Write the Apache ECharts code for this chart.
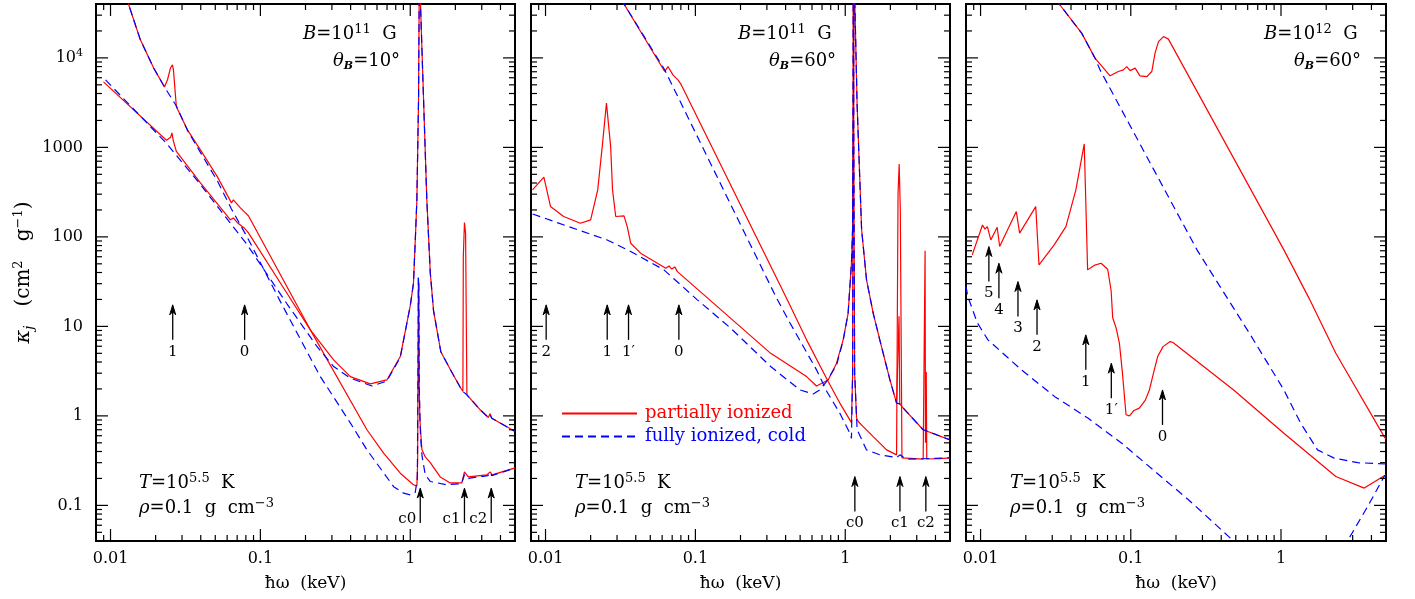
<!DOCTYPE html>
<html>
<head>
<meta charset="utf-8">
<title>opacity vs photon energy</title>
<script src="https://cdn.jsdelivr.net/npm/echarts@6/dist/echarts.min.js"></script>
<style>
  html, body { margin: 0; padding: 0; background: #fff; }
  #chart { width: 1415px; height: 599px; }
</style>
</head>
<body>
<div id="chart"></div>
<script>
// [photon energy keV, kappa cm^2/g]
// panel 1: B = 1e11 G, theta = 10 deg
var p1RedS = [[0.0126,50000],[0.0158,16000],[0.0194,7700],[0.0229,4740],[0.024,5700],[0.0251,7700],[0.0259,8350],[0.0263,7350],[0.0271,3860],[0.0275,2840],[0.0326,1570],[0.0398,937],[0.0517,468],[0.0641,240],[0.066,259],[0.0736,211],[0.0782,190],[0.0806,200],[0.0832,172],[0.2154,9.15],[0.514,0.70],[0.664,0.383],[0.858,0.229],[1.05,0.17],[1.107,0.165],[1.12,0.3],[1.128,5],[1.133,35],[1.14,30],[1.148,2],[1.16,0.9],[1.196,0.42],[1.259,0.348],[1.36,0.30],[1.585,0.208],[1.848,0.178],[2.21,0.178],[2.3,0.237],[2.44,0.208],[3.24,0.219],[3.41,0.237],[3.52,0.219],[5.01,0.262]];
var p1RedW = [[0.00898,5400],[0.0236,1200],[0.0252,1300],[0.0257,1450],[0.0262,1200],[0.0275,900],[0.0398,401],[0.0631,155],[0.066,163],[0.070,145],[0.0782,125],[0.0806,128],[0.0832,111],[0.15,23.6],[0.2154,9.15],[0.308,4.23],[0.398,2.75],[0.541,2.28],[0.698,2.52],[0.858,4.6],[1.0,17],[1.05,30],[1.08,90],[1.107,259],[1.136,3400],[1.15,100000],[1.17,100000],[1.227,3400],[1.29,259],[1.36,40],[1.43,15],[1.6,5.2],[1.85,3.3],[2.15,2.1],[2.245,1.87],[2.26,60],[2.30,145],[2.34,110],[2.388,1.72],[2.93,1.17],[3.32,0.96],[3.41,1.06],[3.5,0.94],[5.01,0.67]];
var p1BlueS = [[0.0126,50000],[0.0158,16000],[0.0194,7700],[0.0229,4740],[0.0275,2900],[0.0326,1550],[0.0398,880],[0.0517,420],[0.0641,205],[0.0815,100],[0.136,18.9],[0.251,2.75],[0.398,0.836],[0.514,0.417],[0.775,0.162],[0.903,0.137],[1.0,0.131],[1.08,0.14],[1.115,0.2],[1.128,5],[1.133,35],[1.14,30],[1.148,2],[1.17,0.6],[1.2,0.35],[1.26,0.22],[1.36,0.185],[1.75,0.17],[2.2,0.175],[2.3,0.22],[2.4,0.2],[3.3,0.215],[3.4,0.235],[3.5,0.215],[5.01,0.262]];
var p1BlueW = [[0.00926,5680],[0.0235,1120],[0.0398,385],[0.0631,142],[0.0815,82],[0.15,18],[0.239,5.94],[0.308,3.56],[0.398,2.64],[0.555,2.16],[0.698,2.45],[0.858,4.5],[1.0,17],[1.05,30],[1.08,90],[1.107,259],[1.136,3400],[1.15,100000],[1.17,100000],[1.227,3400],[1.29,259],[1.36,40],[1.43,15],[1.6,5.2],[1.85,3.3],[2.15,2.1],[2.245,1.87],[2.388,1.72],[2.93,1.17],[3.32,0.96],[3.41,1.02],[3.5,0.94],[5.01,0.67]];

// panel 2: B = 1e11 G, theta = 60 deg
var p2RedS = [[0.032,45000],[0.0624,7040],[0.0656,8000],[0.0708,6460],[0.0765,5680],[0.0806,4990],[0.405,20.7],[0.552,7.07],[0.769,2.42],[0.92,1.39],[1.1,0.84],[1.12,3],[1.13,100000],[1.14,100000],[1.155,3],[1.19,0.95],[1.22,0.865],[1.318,0.76],[1.537,0.587],[1.888,0.417],[2.2,0.367],[2.22,0.37],[2.25,300],[2.29,650],[2.33,200],[2.39,0.34],[2.44,0.337],[3.31,0.328],[3.39,0.33],[3.41,70],[3.43,0.5],[3.47,3.1],[3.5,0.33],[4.29,0.333],[5.0,0.34]];
var p2RedW = [[0.00819,335],[0.00975,465],[0.0108,218],[0.0132,169],[0.0171,142],[0.02,155],[0.0223,335],[0.0239,1021],[0.0255,3118],[0.0272,1021],[0.028,335],[0.0294,169],[0.0334,172],[0.0351,130],[0.037,85],[0.0431,65.8],[0.0634,44.7],[0.0667,47.4],[0.0695,43.7],[0.0728,46.2],[0.0759,40.9],[0.318,5.0],[0.552,2.75],[0.643,2.16],[0.769,2.52],[0.875,3.88],[0.968,7.07],[1.045,14],[1.1,50.8],[1.119,120],[1.135,3000],[1.145,100000],[1.16,100000],[1.2,3000],[1.286,120],[1.387,33],[1.537,14],[1.70,7.07],[1.987,2.52],[2.2,1.39],[2.26,1.37],[2.285,13],[2.31,1.36],[2.44,1.22],[3.31,0.70],[5.0,0.54]];
var p2BlueS = [[0.032,45000],[0.0624,7350],[0.348,20.7],[0.427,11],[0.643,3.27],[0.75,1.9],[0.92,1.07],[1.074,0.64],[1.1,0.56],[1.12,3],[1.13,100000],[1.14,100000],[1.155,3],[1.2,0.7],[1.387,0.417],[1.702,0.367],[2.2,0.342],[2.317,0.367],[2.56,0.328],[5.0,0.34]];
var p2BlueW = [[0.0082,180],[0.0258,92.4],[0.037,68.6],[0.0617,42.8],[0.103,19.8],[0.172,9.55],[0.318,3.56],[0.498,1.95],[0.611,1.76],[0.676,1.95],[0.75,2.42],[0.875,3.7],[0.968,6.9],[1.045,14],[1.1,50.8],[1.119,120],[1.135,3000],[1.145,100000],[1.16,100000],[1.2,3000],[1.286,120],[1.387,33],[1.537,14],[1.70,7.07],[1.987,2.52],[2.2,1.39],[2.317,1.36],[2.44,1.22],[3.31,0.70],[5.0,0.54]];

// panel 3: B = 1e12 G, theta = 60 deg
var p3RedS = [[0.032,46000],[0.0334,40000],[0.0471,18900],[0.0578,9930],[0.0728,6300],[0.0826,7040],[0.0893,7350],[0.094,8000],[0.0989,7210],[0.107,7680],[0.115,6300],[0.128,6180],[0.138,7040],[0.145,11300],[0.153,15200],[0.165,17300],[0.178,16200],[1.045,71.6],[1.535,20.7],[2.317,5.01],[4.86,0.587],[5.0,0.55]];
var p3RedW = [[0.0088,63],[0.0103,136],[0.0107,122],[0.0111,130],[0.0117,92.4],[0.0129,128],[0.0134,78],[0.0173,192],[0.0182,110],[0.0233,218],[0.0245,48.6],[0.0309,81.5],[0.037,130],[0.0431,335],[0.049,1094],[0.0505,1094],[0.0516,42.8],[0.057,48],[0.0634,50.8],[0.0702,43.5],[0.074,25],[0.0758,12.5],[0.08,9.5],[0.084,6.5],[0.088,3],[0.093,1.03],[0.098,1.0],[0.105,1.15],[0.114,1.22],[0.125,1.5],[0.133,1.95],[0.143,3.2],[0.151,4.6],[0.164,5.94],[0.183,6.76],[0.191,6.6],[0.484,1.95],[1.045,0.64],[2.317,0.21],[3.58,0.156],[5.0,0.22]];
var p3BlueS = [[0.032,46000],[0.0334,40000],[0.0471,18900],[0.0578,9930],[0.0624,7350],[0.276,71.6],[0.627,8.0],[1.045,1.95],[1.351,0.83],[1.75,0.417],[2.26,0.337],[3.24,0.30],[5.0,0.29]];
var p3BlueWLeft = [[0.008,28],[0.00823,21.5],[0.0095,11],[0.0112,7.07],[0.0187,3.27],[0.0312,1.64],[0.0521,0.94],[0.0871,0.495],[0.145,0.239],[0.243,0.115],[0.449,0.0448],[0.55,0.032]];
var p3BlueWRight = [[2.6,0.033],[2.77,0.04],[3.77,0.097],[4.86,0.21],[5.0,0.22]];

// arrow markers: [energy keV, kappa at arrow tip]
var p1Arrows = [[0.026,17.4],[0.0785,17.4]];
var p1ArrowLabels = ['1','0'];
var p1CycArrows = [[1.166,0.156],[2.30,0.156],[3.47,0.156]];
var p1CycLabels = ['c0','c1','c2'];
var p2Arrows = [[0.0101,17.4],[0.0258,17.4],[0.0358,17.4],[0.0776,17.4]];
var p2ArrowLabels = ['2','1','1\u2032','0'];
var p2CycArrows = [[1.159,0.21],[2.317,0.21],[3.45,0.21]];
var p2CycLabels = ['c0','c1','c2'];
var p3Arrows = [[0.01136,78],[0.01325,50.8],[0.01774,31.7],[0.02376,19.8],[0.0502,8.04],[0.0742,3.88],[0.1626,1.95]];
var p3ArrowLabels = ['5','4','3','2','1','1\u2032','0'];

// axes
var xRange = [0.008, 5];
var yRange = [0.04, 40000];
var xMajor = [0.01, 0.1, 1];
var xMinor = [0.009,0.02,0.03,0.04,0.05,0.06,0.07,0.08,0.09,0.2,0.3,0.4,0.5,0.6,0.7,0.8,0.9,2,3,4];
var yMajor = [0.1, 1, 10, 100, 1000, 10000];
var yMinor = [0.05,0.06,0.07,0.08,0.09,0.2,0.3,0.4,0.5,0.6,0.7,0.8,0.9,2,3,4,5,6,7,8,9,20,30,40,50,60,70,80,90,200,300,400,500,600,700,800,900,2000,3000,4000,5000,6000,7000,8000,9000,20000,30000];

var RED = 'partially ionized';
var BLUE = 'fully ionized, cold';
var FONT = '"DejaVu Serif", serif';
var MAJOR_LEN = 12, MINOR_LEN = 6, ARROW_LEN = 35;

var grids = [
  { left: 96, top: 4, width: 419, height: 537 },
  { left: 531, top: 4, width: 419, height: 537 },
  { left: 966, top: 4, width: 420, height: 537 }
];

var richBase = {
  b: { fontFamily: FONT, fontSize: 16, color: '#000', lineHeight: 20, verticalAlign: 'middle' },
  s: { fontFamily: FONT, fontSize: 11, color: '#000', lineHeight: 12, verticalAlign: 'top' }
};

function isPow10(v) {
  var l = Math.log10(v);
  return Math.abs(l - Math.round(l)) < 1e-6;
}
function xLabel(v) {
  if (!isPow10(v)) return '';
  var e = Math.round(Math.log10(v));
  return e < 0 ? v.toFixed(-e) : String(Math.round(v));
}
function yLabel(v) {
  if (!isPow10(v)) return '';
  var e = Math.round(Math.log10(v));
  if (e >= 4) return '{b|10}{s|' + e + '}';
  return e < 0 ? v.toFixed(-e) : String(Math.round(v));
}

var tickData = [];
xMajor.forEach(function (v) { tickData.push([v, yRange[0], 0]); });
xMinor.forEach(function (v) { tickData.push([v, yRange[0], 1]); });
yMajor.forEach(function (v) { tickData.push([xRange[0], v, 2]); });
yMinor.forEach(function (v) { tickData.push([xRange[0], v, 3]); });

function tickSeries(idx) {
  return {
    type: 'custom', xAxisIndex: idx, yAxisIndex: idx, silent: true, z: 10,
    data: tickData, encode: { x: 0, y: 1 },
    renderItem: function (params, api) {
      var cs = params.coordSys;
      var kind = api.value(2);
      var len = (kind === 0 || kind === 2) ? MAJOR_LEN : MINOR_LEN;
      var segs = [];
      if (kind < 2) {
        var x = api.coord([api.value(0), yRange[0]])[0];
        segs.push([x, cs.y + cs.height, x, cs.y + cs.height - len]);
        segs.push([x, cs.y, x, cs.y + len]);
      } else {
        var y = api.coord([xRange[0], api.value(1)])[1];
        segs.push([cs.x, y, cs.x + len, y]);
        segs.push([cs.x + cs.width, y, cs.x + cs.width - len, y]);
      }
      return {
        type: 'group',
        children: segs.map(function (s) {
          return { type: 'line', shape: { x1: s[0], y1: s[1], x2: s[2], y2: s[3] },
                   style: { stroke: '#000', lineWidth: 1.2 } };
        })
      };
    }
  };
}

function arrowSeries(idx, pts, labels, side) {
  return {
    type: 'custom', xAxisIndex: idx, yAxisIndex: idx, silent: true, z: 11,
    data: pts, encode: { x: 0, y: 1 },
    renderItem: function (params, api) {
      var p = api.coord([api.value(0), api.value(1)]);
      var x = p[0], y = p[1], tail = y + ARROW_LEN;
      var txt = labels[params.dataIndex];
      var label = side === 'left'
        ? { type: 'text', x: x - 4, y: tail - 4,
            style: { text: txt, font: '15px ' + FONT, fill: '#000', align: 'right', verticalAlign: 'middle',
                     textAlign: 'right', textVerticalAlign: 'middle' } }
        : { type: 'text', x: x, y: tail + 12,
            style: { text: txt, font: '15px ' + FONT, fill: '#000', align: 'center', verticalAlign: 'middle',
                     textAlign: 'center', textVerticalAlign: 'middle' } };
      return {
        type: 'group',
        children: [
          { type: 'line', shape: { x1: x, y1: y + 4, x2: x, y2: tail }, style: { stroke: '#000', lineWidth: 1.3 } },
          { type: 'polygon', shape: { points: [[x, y], [x - 3, y + 10], [x, y + 7], [x + 3, y + 10]] },
            style: { stroke: '#000', lineWidth: 1, fill: '#000' } },
          label
        ]
      };
    }
  };
}

function curve(idx, name, pts, color, dashed) {
  return {
    type: 'line', name: name, xAxisIndex: idx, yAxisIndex: idx, data: pts,
    showSymbol: false, symbol: 'none', clip: true, silent: true, animation: false,
    itemStyle: { color: color },
    lineStyle: { color: color, width: 1.2, type: dashed ? [8, 5] : 'solid' }
  };
}

var xAxes = grids.map(function (g, i) {
  return {
    type: 'log', gridIndex: i, min: xRange[0], max: xRange[1], logBase: 10,
    axisLine: { show: false }, axisTick: { show: false }, splitLine: { show: false },
    axisLabel: { formatter: xLabel, fontFamily: FONT, fontSize: 16, color: '#000', margin: 10,
                 showMinLabel: false, showMaxLabel: false },
    name: 'ħω  (keV)', nameLocation: 'middle', nameGap: 34,
    nameTextStyle: { fontFamily: FONT, fontSize: 17, color: '#000' }
  };
});
var yAxes = grids.map(function (g, i) {
  return {
    type: 'log', gridIndex: i, min: yRange[0], max: yRange[1], logBase: 10,
    axisLine: { show: false }, axisTick: { show: false }, splitLine: { show: false },
    axisLabel: { show: i === 0, formatter: yLabel, fontFamily: FONT, fontSize: 16, color: '#000', margin: 13,
                 showMinLabel: false, showMaxLabel: false, rich: richBase },
    name: i === 0 ? '{k|κ}{sub|j}   (cm{sup|2}   g{sup|−1})' : '',
    nameLocation: 'middle', nameGap: 60, nameRotate: 90,
    nameTextStyle: {
      fontFamily: FONT, fontSize: 20, color: '#000',
      rich: {
        k: { fontFamily: FONT, fontSize: 21, fontStyle: 'italic', color: '#000', lineHeight: 24, verticalAlign: 'middle' },
        sub: { fontFamily: FONT, fontSize: 13, fontStyle: 'italic', color: '#000', lineHeight: 12, verticalAlign: 'bottom' },
        sup: { fontFamily: FONT, fontSize: 13, color: '#000', lineHeight: 12, verticalAlign: 'top' }
      }
    }
  };
});

var annRich = {
  i: { fontFamily: FONT, fontSize: 18, fontStyle: 'italic', fill: '#000', lineHeight: 22, verticalAlign: 'middle' },
  n: { fontFamily: FONT, fontSize: 18, fill: '#000', lineHeight: 22, verticalAlign: 'middle' },
  sup: { fontFamily: FONT, fontSize: 13, fill: '#000', lineHeight: 12, verticalAlign: 'top' },
  sub: { fontFamily: FONT, fontSize: 11, fontStyle: 'italic', fontWeight: 'bold', fill: '#000', lineHeight: 12, verticalAlign: 'bottom' }
};
function ann(x, y, text) {
  return { type: 'text', x: x, y: y, z: 20, silent: true,
           style: { text: text, rich: annRich, fill: '#000', font: '18px ' + FONT,
                    verticalAlign: 'middle', textVerticalAlign: 'middle' } };
}
var graphics = [
  ann(303, 34, '{i|B}{n|=10}{sup|11}{n|  G}'),
  ann(333, 61, '{i|θ}{sub|B}{n|=10°}'),
  ann(738, 34, '{i|B}{n|=10}{sup|11}{n|  G}'),
  ann(769, 61, '{i|θ}{sub|B}{n|=60°}'),
  ann(1264, 34, '{i|B}{n|=10}{sup|12}{n|  G}'),
  ann(1294, 61, '{i|θ}{sub|B}{n|=60°}')
];
[139, 575, 1010].forEach(function (x) {
  graphics.push(ann(x, 483, '{i|T}{n|=10}{sup|5.5}{n|  K}'));
  graphics.push(ann(x, 508, '{i|ρ}{n|=0.1  g  cm}{sup|−3}'));
});

var series = [
  curve(0, RED, p1RedS, '#ff0000', false),
  curve(0, RED, p1RedW, '#ff0000', false),
  curve(1, RED, p2RedS, '#ff0000', false),
  curve(1, RED, p2RedW, '#ff0000', false),
  curve(2, RED, p3RedS, '#ff0000', false),
  curve(2, RED, p3RedW, '#ff0000', false),
  curve(0, BLUE, p1BlueS, '#0000ff', true),
  curve(0, BLUE, p1BlueW, '#0000ff', true),
  curve(1, BLUE, p2BlueS, '#0000ff', true),
  curve(1, BLUE, p2BlueW, '#0000ff', true),
  curve(2, BLUE, p3BlueS, '#0000ff', true),
  curve(2, BLUE, p3BlueWLeft, '#0000ff', true),
  curve(2, BLUE, p3BlueWRight, '#0000ff', true),
  tickSeries(0), tickSeries(1), tickSeries(2),
  arrowSeries(0, p1Arrows, p1ArrowLabels, 'below'),
  arrowSeries(0, p1CycArrows, p1CycLabels, 'left'),
  arrowSeries(1, p2Arrows, p2ArrowLabels, 'below'),
  arrowSeries(1, p2CycArrows, p2CycLabels, 'below'),
  arrowSeries(2, p3Arrows, p3ArrowLabels, 'below')
];

var chart = echarts.init(document.getElementById('chart'), null, { renderer: 'canvas' });
chart.setOption({
  animation: false,
  backgroundColor: '#fff',
  grid: grids.map(function (g) {
    return Object.assign({ show: true, borderColor: '#000', borderWidth: 2, backgroundColor: 'transparent',
                           containLabel: false, outerBoundsMode: 'none' }, g);
  }),
  xAxis: xAxes,
  yAxis: yAxes,
  legend: {
    left: 561, top: 404, padding: 0, orient: 'vertical', itemWidth: 75, itemHeight: 12, itemGap: 4,
    selectedMode: false,
    itemStyle: { opacity: 0 },
    textStyle: { fontFamily: FONT, fontSize: 18, lineHeight: 19, padding: [0, 0, 0, 3] },
    data: [
      { name: RED, textStyle: { color: '#ff0000' } },
      { name: BLUE, textStyle: { color: '#0000ff' } }
    ]
  },
  graphic: graphics,
  series: series
});
</script>
</body>
</html>
